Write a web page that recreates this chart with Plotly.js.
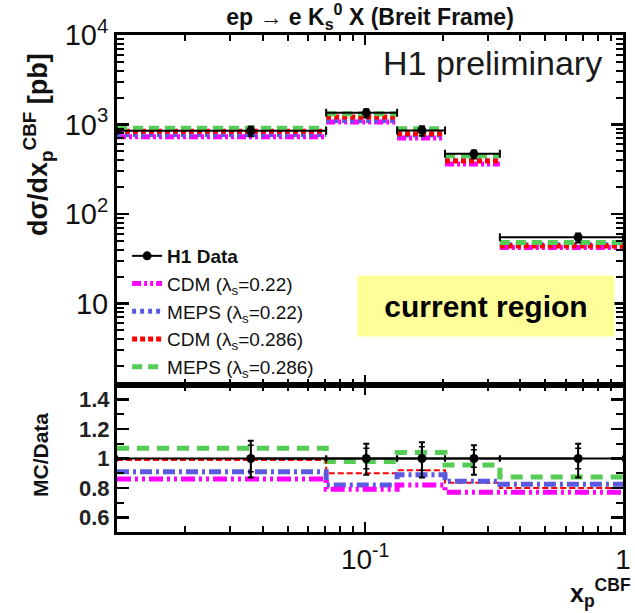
<!DOCTYPE html>
<html>
<head>
<meta charset="utf-8">
<script src="https://cdn.plot.ly/plotly-3.0.1.min.js"></script>
<style>html,body{margin:0;padding:0;background:#fff;}</style>
</head>
<body>
<div id="chart" style="width:635px;height:613px;"></div>
<script>
// ---- data ----
const binEdges = [0.0109, 0.0706, 0.133, 0.204, 0.333, 1.0];
const xPoints  = [0.036, 0.101, 0.166, 0.264, 0.67];
const sigData  = [850, 1350, 860, 470, 55];
const sigErrUp = [100, 135, 95, 42, 5.5];
const sigErrDn = [110, 150, 110, 52, 7];

const sigCDM022   = [731, 1067, 705, 362, 42.4];
const sigMEPS022  = [774, 1107, 765, 397, 45.4];
const sigCDM0286  = [842, 1215, 791, 392, 44.0];
const sigMEPS0286 = [910, 1323, 894, 449, 48.1];

const ratioData   = [1, 1, 1, 1, 1];
const ratioErrUp  = [0.12, 0.10, 0.11, 0.09, 0.10];
const ratioErrDn  = [0.13, 0.11, 0.13, 0.11, 0.13];
const ratioStat   = [0.09, 0.07, 0.08, 0.06, 0.07];

const rCDM022   = [0.86, 0.79, 0.82, 0.77, 0.77];
const rMEPS022  = [0.91, 0.82, 0.89, 0.845, 0.825];
const rCDM0286  = [0.99, 0.90, 0.92, 0.835, 0.80];
const rMEPS0286 = [1.07, 0.98, 1.04, 0.955, 0.875];

const names = ['CDM (λ<sub>s</sub>=0.22)', 'MEPS (λ<sub>s</sub>=0.22)', 'CDM (λ<sub>s</sub>=0.286)', 'MEPS (λ<sub>s</sub>=0.286)'];
const colors = ['#ff00ff', '#5a5ae0', '#ff0000', '#55cc55'];

// ---- helpers building plotting arrays from the data ----
function segments(vals) {
  const x = [], y = [];
  vals.forEach((v, i) => { x.push(binEdges[i], binEdges[i + 1], null); y.push(v, v, null); });
  return {x, y};
}
function steps(vals) {
  return {x: binEdges.slice(), y: vals.concat([vals[vals.length - 1]])};
}
const exPlus  = xPoints.map((x, i) => binEdges[i + 1] - x);
const exMinus = xPoints.map((x, i) => x - binEdges[i]);

const upperVals = [sigCDM022, sigMEPS022, sigCDM0286, sigMEPS0286];
const lowerVals = [rCDM022, rMEPS022, rCDM0286, rMEPS0286];
const upperDash = ['9px,3px,3px,3px,3px,3px', '4px,4px', '5px,3px', '10px,6px'];
const lowerDash = ['14px,4px,3px,4px,3px,4px', '12px,4px,3px,4px', '6px,3px', '12px,8px'];
const lowerWidth = [5, 5, 2, 5];

const traces = [];
// lower panel model curves
[3, 2, 1, 0].forEach(k => {
  const s = steps(lowerVals[k]);
  traces.push({x: s.x, y: s.y, xaxis: 'x2', yaxis: 'y2', mode: 'lines', showlegend: false,
    line: {shape: 'hv', color: colors[k], width: lowerWidth[k], dash: lowerDash[k]}, hoverinfo: 'skip'});
});
// lower panel data (stat errors)
traces.push({x: xPoints, y: ratioData, xaxis: 'x2', yaxis: 'y2', mode: 'markers', showlegend: false,
  marker: {color: 'black', size: 1},
  error_y: {type: 'data', array: ratioStat, symmetric: true, color: 'black', thickness: 1.5, width: 3}});
// lower panel data (total errors) - also legend entry
traces.push({x: xPoints, y: ratioData, xaxis: 'x2', yaxis: 'y2', mode: 'lines+markers', name: '<b>H1 Data</b>',
  legendrank: 1, line: {color: 'black', width: 2}, marker: {color: 'black', size: 9, symbol: 'circle'},
  error_y: {type: 'data', array: ratioErrUp, arrayminus: ratioErrDn, symmetric: false, color: 'black', thickness: 2, width: 3},
  error_x: {type: 'data', array: exPlus, arrayminus: exMinus, symmetric: false, color: 'black', thickness: 2, width: 3}});
// upper panel model curves
[0, 1, 2, 3].forEach(k => {
  const s = segments(upperVals[k]);
  traces.push({x: s.x, y: s.y, xaxis: 'x', yaxis: 'y', mode: 'lines', name: names[k], legendrank: k + 2,
    line: {color: colors[k], width: 5, dash: upperDash[k]}, connectgaps: false, hoverinfo: 'skip'});
});
// upper panel data
traces.push({x: xPoints, y: sigData, xaxis: 'x', yaxis: 'y', mode: 'markers', showlegend: false,
  marker: {color: 'black', size: 9},
  error_y: {type: 'data', array: sigErrUp, arrayminus: sigErrDn, symmetric: false, color: 'black', thickness: 2, width: 3},
  error_x: {type: 'data', array: exPlus, arrayminus: exMinus, symmetric: false, color: 'black', thickness: 2, width: 4}});

// tick helpers (axis decoration only)
const minorX = [0.02,0.03,0.04,0.05,0.06,0.07,0.08,0.09,0.2,0.3,0.4,0.5,0.6,0.7,0.8,0.9];
const minorY = [];
[1, 10, 100, 1000].forEach(d => { for (let m = 2; m <= 9; m++) minorY.push(m * d); });

const FONT = 'Liberation Sans, Arial, sans-serif';
const splitY = (532 - 385) / 497;
const xCommon = {type: 'log', range: [Math.log10(0.0109), 0], showgrid: false, zeroline: false,
  showline: true, linecolor: 'black', linewidth: 3, mirror: 'allticks',
  ticks: 'inside', ticklen: 10, tickwidth: 2.5, tickcolor: 'black', tickvals: [0.1, 1],
  minor: {tickvals: minorX, ticks: 'inside', ticklen: 6, tickwidth: 2, tickcolor: 'black'}};

const layout = {
  width: 635, height: 613,
  margin: {l: 117, r: 12, t: 35, b: 81},
  paper_bgcolor: 'white', plot_bgcolor: 'white',
  font: {family: FONT, color: '#111'},
  title: {text: '<b>ep → e K<sub>s</sub><sup>0</sup> X (Breit Frame)</b>', font: {size: 23, family: FONT, color: '#111'},
    x: 0.5, xref: 'paper', xanchor: 'center', y: 1 - 17 / 613, yref: 'container', yanchor: 'middle'},
  xaxis: Object.assign({}, xCommon, {anchor: 'y', domain: [0, 1], showticklabels: false}),
  xaxis2: Object.assign({}, xCommon, {anchor: 'y2', domain: [0, 1], ticktext: ['10<sup>-1</sup>', '1'],
    tickfont: {size: 28, family: FONT, color: '#111'}}),
  yaxis: {type: 'log', domain: [splitY, 1], range: [0.09, 4], anchor: 'x', showgrid: false, zeroline: false,
    showline: true, linecolor: 'black', linewidth: 3, mirror: 'allticks',
    ticks: 'inside', ticklen: 12, tickwidth: 2.5, tickcolor: 'black',
    tickvals: [10, 100, 1000, 10000], ticktext: ['10', '10<sup>2</sup>', '10<sup>3</sup>', '10<sup>4</sup>'],
    tickfont: {size: 29, family: FONT, color: '#111'},
    minor: {tickvals: minorY, ticks: 'inside', ticklen: 7, tickwidth: 2, tickcolor: 'black'}},
  yaxis2: {domain: [0, splitY], range: [0.5, 1.5], anchor: 'x2', showgrid: false, zeroline: false,
    showline: true, linecolor: 'black', linewidth: 3, mirror: 'allticks',
    ticks: 'inside', ticklen: 12, tickwidth: 2.5, tickcolor: 'black',
    tickvals: [0.6, 0.8, 1, 1.2, 1.4], ticktext: ['<b>0.6</b>', '<b>0.8</b>', '<b>1</b>', '<b>1.2</b>', '<b>1.4</b>'],
    tickfont: {size: 22, family: FONT, color: '#222'},
    minor: {tickvals: [0.7, 0.9, 1.1, 1.3], ticks: 'inside', ticklen: 7, tickwidth: 2, tickcolor: 'black'}},
  showlegend: true,
  legend: {x: 0.02, y: (532 - 237) / 497, xanchor: 'left', yanchor: 'top', bgcolor: 'rgba(0,0,0,0)',
    font: {size: 19, family: FONT, color: '#111'}, itemwidth: 30, tracegroupgap: 0},
  annotations: [
    {text: 'H1 preliminary', xref: 'paper', yref: 'paper', x: (604 - 117) / 506, y: (532 - 63) / 497,
      xanchor: 'right', yanchor: 'middle', showarrow: false, font: {size: 34, family: FONT, color: '#1a1a1a'}},
    {text: '<b>current region</b>', xref: 'paper', yref: 'paper', x: (486 - 117) / 506, y: (532 - 306) / 497,
      xanchor: 'center', yanchor: 'middle', showarrow: false, bgcolor: '#ffff99', width: 256, height: 60, borderpad: 0,
      font: {size: 30, family: FONT, color: '#000'}},
    {text: '<b>dσ/dx<sub>p</sub><sup>CBF</sup> [pb]</b>', xref: 'paper', yref: 'paper', x: (38 - 117) / 506, y: (532 - 145) / 497,
      xanchor: 'center', yanchor: 'middle', textangle: -90, showarrow: false, font: {size: 27, family: FONT, color: '#111'}},
    {text: '<b>MC/Data</b>', xref: 'paper', yref: 'paper', x: (40 - 117) / 506, y: (532 - 455) / 497,
      xanchor: 'center', yanchor: 'middle', textangle: -90, showarrow: false, font: {size: 21, family: FONT, color: '#111'}},
    {text: '<b>x<sub>p</sub><sup>CBF</sup></b>', xref: 'paper', yref: 'paper', x: (632 - 117) / 506, y: (532 - 612) / 497,
      xanchor: 'right', yanchor: 'bottom', showarrow: false, borderpad: 0, font: {size: 25, family: FONT, color: '#111'}}
  ]
};

Plotly.newPlot('chart', traces, layout, {displayModeBar: false, staticPlot: true});
</script>
</body>
</html>
